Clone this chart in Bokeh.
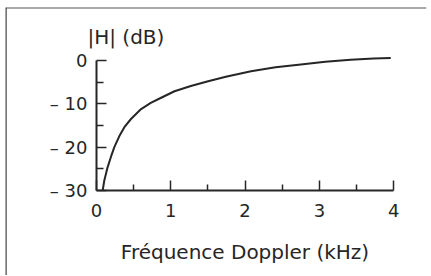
from bokeh.plotting import figure
from bokeh.models import FixedTicker, Label, Span
from bokeh.embed import file_html
from bokeh.resources import INLINE

# Data
freq_khz = [0.083, 0.105, 0.15, 0.195, 0.24, 0.306, 0.375, 0.464, 0.6, 0.73,
            0.87, 1.05, 1.27, 1.49, 1.74, 2.08, 2.41, 2.75, 3.08, 3.42, 3.73, 3.96]
gain_db = [-30.0, -27.7, -24.6, -22.2, -20.0, -17.5, -15.4, -13.5, -11.2, -9.8,
           -8.6, -7.1, -5.9, -4.85, -3.75, -2.5, -1.55, -0.9, -0.3, 0.15, 0.45, 0.6]

x_ticks = [0, 1, 2, 3, 4]
x_minor = [0.5, 1.5, 2.5, 3.5]
y_ticks = [0, -10, -20, -30]
y_minor = [-5, -15, -25]
y_tick_labels = {0: "0", -10: "– 10", -20: "– 20", -30: "– 30"}

title_text = "|H| (dB)"
x_label = "Fréquence Doppler (kHz)"

INK = "#262626"
FONT = "DejaVu Sans"

# The frame covers the whole boxed figure; axes sit inside it at fixed places.
FW, FH = 421, 268
PX_PER_KHZ = 74.3
PX_PER_DB = 130 / 30.0
X0_PX, Y0_PX = 91, 53          # pixel offset of (0 kHz, 0 dB) inside the frame
x_start = -X0_PX / PX_PER_KHZ
x_end = (FW - X0_PX) / PX_PER_KHZ
y_end = Y0_PX / PX_PER_DB
y_start = -(FH - Y0_PX) / PX_PER_DB

p = figure(frame_width=FW, frame_height=FH,
           min_border_left=5, min_border_right=4,
           min_border_top=7, min_border_bottom=0,
           x_range=(x_start, x_end), y_range=(y_start, y_end),
           output_backend="svg", toolbar_location=None)

p.outline_line_color = None
p.grid.visible = False
p.background_fill_color = "white"
p.border_fill_color = "white"

# left and top edges of the box drawn round the figure
p.add_layout(Span(location=x_start, dimension="height",
                  line_color="#4a4a4a", line_width=2.5))
p.add_layout(Span(location=y_end, dimension="width",
                  line_color="#555555", line_width=2))

p.line(freq_khz, gain_db, line_color=INK, line_width=2)

p.add_layout(Label(x=x_ticks[0], y=y_ticks[0], x_offset=-9, y_offset=24,
                   text=title_text, text_font=FONT, text_font_size="20px",
                   text_color=INK, text_baseline="alphabetic"))

for ax in (p.xaxis[0], p.yaxis[0]):
    ax.axis_line_color = INK
    ax.axis_line_width = 2
    ax.major_tick_line_color = INK
    ax.minor_tick_line_color = INK
    ax.major_tick_line_width = 1.5
    ax.minor_tick_line_width = 1.5
    ax.major_tick_out = 0
    ax.minor_tick_out = 0
    ax.major_label_text_font = FONT
    ax.major_label_text_font_size = "18px"
    ax.major_label_text_color = INK

xa = p.xaxis[0]
xa.fixed_location = y_ticks[-1]
xa.ticker = FixedTicker(ticks=x_ticks, minor_ticks=x_minor)
xa.bounds = (x_ticks[0], x_ticks[-1])
xa.major_tick_in = 10
xa.minor_tick_in = 6
xa.major_label_standoff = 13
xa.axis_label = x_label
xa.axis_label_text_font = FONT
xa.axis_label_text_font_size = "20px"
xa.axis_label_text_font_style = "normal"
xa.axis_label_text_color = INK
xa.axis_label_standoff = 20

ya = p.yaxis[0]
ya.fixed_location = x_ticks[0]
ya.ticker = FixedTicker(ticks=y_ticks, minor_ticks=y_minor)
ya.bounds = (y_ticks[-1], y_ticks[0])
ya.major_tick_in = 10
ya.minor_tick_in = 7
ya.major_label_standoff = 9
ya.major_label_overrides = y_tick_labels

open("out.html", "w").write(file_html(p, INLINE))
